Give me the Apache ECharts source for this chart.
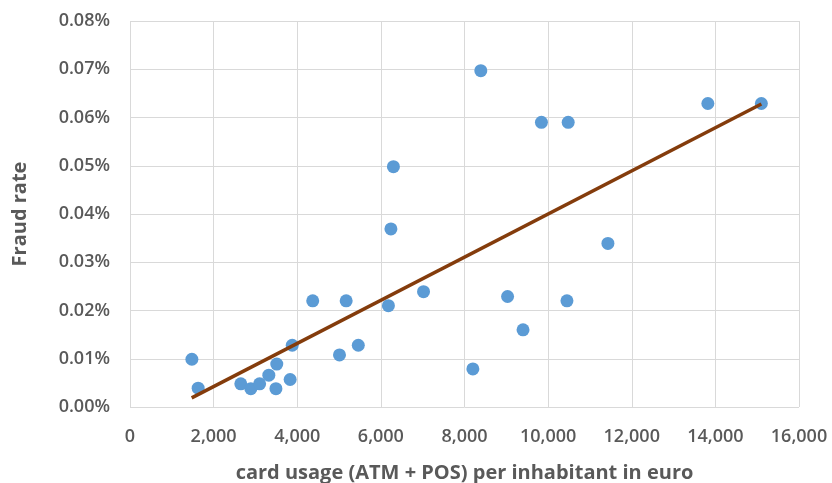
<!DOCTYPE html>
<html>
<head>
<meta charset="utf-8">
<script src="https://cdn.jsdelivr.net/npm/echarts@6/dist/echarts.min.js"></script>
<style>html,body{margin:0;padding:0;background:#fff}#c{width:832px;height:483px}</style>
</head>
<body>
<div id="c"></div>
<script>
// card usage (ATM + POS) per inhabitant in euro
const usage = [1480, 1630, 2650, 2890, 3100, 3320, 3510, 3490, 3830, 3880, 4370, 5170, 5010, 5460, 6180, 6240, 6300, 7020, 8200, 9030, 9400, 10450, 11430, 8390, 9840, 10480, 13820, 15100];
// fraud rate in percent
const fraud = [0.0099, 0.0039, 0.0048, 0.0038, 0.0048, 0.0066, 0.0089, 0.0038, 0.0057, 0.0128, 0.0220, 0.0220, 0.0108, 0.0128, 0.0210, 0.0369, 0.0498, 0.0239, 0.0079, 0.0229, 0.0160, 0.0220, 0.0339, 0.0697, 0.0590, 0.0590, 0.0629, 0.0629];
// linear trendline end points
const trendX = [1475, 15100];
const trendY = [0.0019, 0.0628];
const xTicks = {min: 0, max: 16000, interval: 2000};
const yTicks = {min: 0, max: 0.08, interval: 0.01};

const chart = echarts.init(document.getElementById('c'), null, {renderer: 'canvas'});
const labelStyle = {color: '#595959', fontFamily: 'Open Sans', fontSize: 18, fontWeight: 600};
chart.setOption({
  animation: false,
  grid: {left: 130, right: 33, top: 21, bottom: 76, containLabel: false, outerBoundsMode: 'none'},
  xAxis: {
    type: 'value', min: xTicks.min, max: xTicks.max, interval: xTicks.interval,
    name: 'card usage (ATM + POS) per inhabitant in euro',
    nameLocation: 'middle', nameGap: 56,
    nameTextStyle: {color: '#595959', fontFamily: 'Open Sans', fontSize: 20, fontWeight: 'bold'},
    axisLine: {show: false}, axisTick: {show: false},
    axisLabel: Object.assign({margin: 21, formatter: v => v.toLocaleString('en-US')}, labelStyle),
    splitLine: {show: true, lineStyle: {color: '#D9D9D9', width: 1}}
  },
  yAxis: {
    type: 'value', min: yTicks.min, max: yTicks.max, interval: yTicks.interval,
    name: 'Fraud rate', nameLocation: 'middle', nameGap: 100, nameRotate: 90,
    nameTextStyle: {color: '#595959', fontFamily: 'Open Sans', fontSize: 20, fontWeight: 'bold'},
    axisLine: {show: false}, axisTick: {show: false},
    axisLabel: Object.assign({margin: 20, formatter: v => v.toFixed(2) + '%'}, labelStyle),
    splitLine: {show: true, lineStyle: {color: '#D9D9D9', width: 1}}
  },
  series: [
    {
      type: 'scatter', symbolSize: 13,
      itemStyle: {color: '#5B9BD5', opacity: 1},
      data: usage.map((x, i) => [x, fraud[i]]),
      z: 2
    },
    {
      type: 'line', symbol: 'none', silent: true,
      lineStyle: {color: '#843C0C', width: 3.5},
      data: trendX.map((x, i) => [x, trendY[i]]),
      z: 3
    }
  ]
});
</script>
</body>
</html>
